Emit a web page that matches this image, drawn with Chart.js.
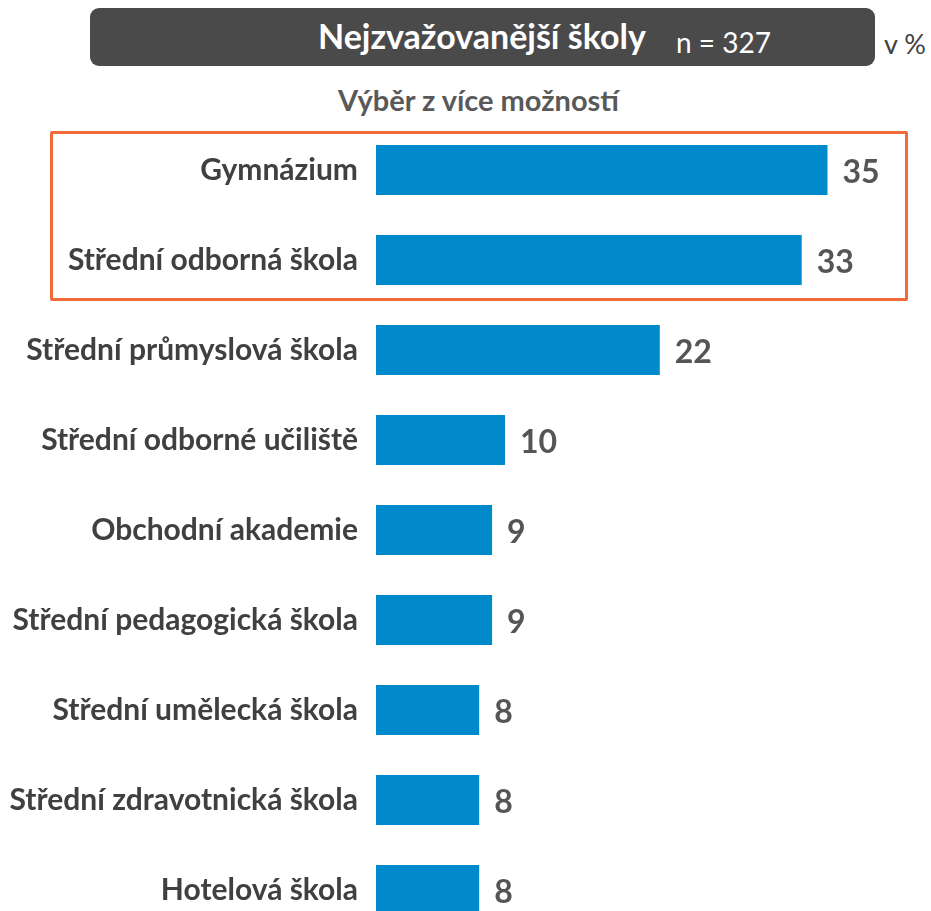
<!DOCTYPE html>
<html>
<head>
<meta charset="utf-8">
<script src="https://cdn.jsdelivr.net/npm/chart.js@4"></script>
<style>
    html, body { margin: 0; padding: 0; background: #fff; overflow: hidden; width: 931px; height: 911px; }
    body { position: relative; font-family: Lato, "Open Sans", sans-serif; }
    .title-box {
        position: absolute; left: 90px; top: 8px; width: 785px; height: 58px;
        background: #4a4a4a; border-radius: 9px;
    }
    .title-main {
        position: absolute; left: 318px; top: 17px; color: #fff;
        font-weight: bold; font-size: 34px; line-height: 38px;
    }
    .title-n {
        position: absolute; left: 676px; top: 26px; color: #fff;
        font-size: 28px; line-height: 32px;
    }
    .unit {
        position: absolute; left: 884px; top: 28px; color: #404040;
        font-size: 27px; line-height: 32px;
    }
    .subtitle {
        position: absolute; left: 0; width: 957px; top: 83px; text-align: center;
        color: #595959; font-weight: bold; font-size: 29px; line-height: 34px;
    }
    .highlight {
        position: absolute; left: 50px; top: 131px; width: 852px; height: 164px;
        border: 3px solid #ef6c3a; border-radius: 2px;
    }
    .chart-wrap { position: absolute; left: 0; top: 125px; width: 931px; height: 810px; }
    #schoolChart { display: block; }
</style>
</head>
<body>
<div class="title-box"></div>
<div class="title-main">Nejzvažovanější školy</div>
<div class="title-n">n = 327</div>
<div class="unit">v %</div>
<div class="subtitle">Výběr z více možností</div>
<div class="highlight"></div>
<div class="chart-wrap"><canvas id="schoolChart" width="931" height="810"></canvas></div>

<script>
const categories = [
    'Gymnázium',
    'Střední odborná škola',
    'Střední průmyslová škola',
    'Střední odborné učiliště',
    'Obchodní akademie',
    'Střední pedagogická škola',
    'Střední umělecká škola',
    'Střední zdravotnická škola',
    'Hotelová škola'
];
const shares = [35, 33, 22, 10, 9, 9, 8, 8, 8];

const BAR_COLOR = '#0089cb';
const LABEL_COLOR = '#404040';
const VALUE_COLOR = '#555555';

// Draw the percentage after each bar
const valueLabels = {
    id: 'valueLabels',
    afterDatasetsDraw(chart) {
        const ctx = chart.ctx;
        const meta = chart.getDatasetMeta(0);
        ctx.save();
        ctx.font = 'bold 32px Lato, sans-serif';
        ctx.fillStyle = VALUE_COLOR;
        ctx.textAlign = 'left';
        ctx.textBaseline = 'middle';
        meta.data.forEach((bar, i) => {
            ctx.fillText(String(shares[i]), bar.x + 15, bar.y + 3);
        });
        ctx.restore();
    }
};

const ctx = document.getElementById('schoolChart').getContext('2d');
const schoolChart = new Chart(ctx, {
    type: 'bar',
    data: {
        labels: categories,
        datasets: [{
            data: shares,
            backgroundColor: BAR_COLOR,
            borderWidth: 0,
            barPercentage: 1,
            categoryPercentage: 50 / 90
        }]
    },
    options: {
        indexAxis: 'y',
        responsive: false,
        animation: false,
        layout: { padding: { left: 0, right: 39, top: 0, bottom: 0 } },
        plugins: {
            legend: { display: false },
            tooltip: { enabled: false }
        },
        scales: {
            x: {
                display: false,
                min: 0,
                max: 40
            },
            y: {
                grid: { display: false, drawTicks: false },
                border: { display: false },
                ticks: {
                    color: LABEL_COLOR,
                    padding: 18,
                    font: { family: 'Lato, sans-serif', weight: 'bold', size: 30 }
                },
                afterFit(scale) {
                    // fixed label column, no extra room above/below the first/last label
                    scale.width = 376;
                    scale.paddingTop = 0;
                    scale.paddingBottom = 0;
                }
            }
        }
    },
    plugins: [valueLabels]
});
</script>
</body>
</html>
